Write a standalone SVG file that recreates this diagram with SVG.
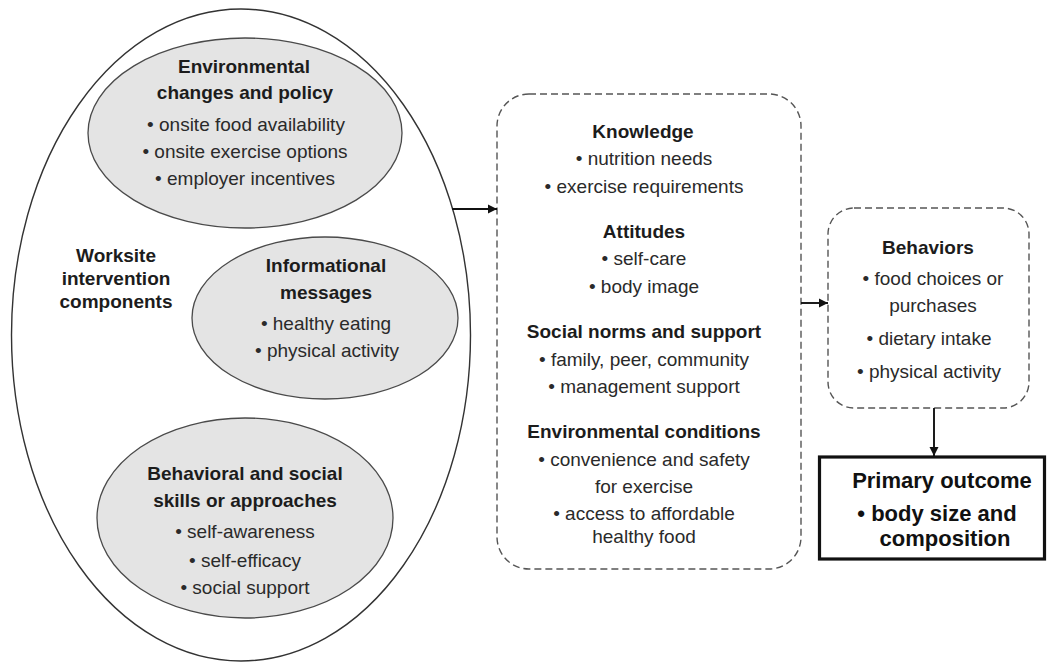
<svg xmlns="http://www.w3.org/2000/svg" width="1049" height="662" viewBox="0 0 1049 662">
<defs>
<style>
text{font-family:"Liberation Sans",Arial,sans-serif;text-anchor:middle;fill:#2a2a2a;font-size:19px}
.b{font-weight:bold;fill:#1c1c1c}
.big{font-weight:bold;font-size:22px;fill:#111}
.oval{fill:#e4e4e4;stroke:#4a4a4a;stroke-width:1.3}
.dash{fill:#fff;stroke:#555;stroke-width:1.4;stroke-dasharray:7 4}
.conn{stroke:#111;stroke-width:1.9;fill:none}
</style>
<marker id="ah" viewBox="0 0 10 10" refX="10" refY="5" markerWidth="5" markerHeight="5" orient="auto" markerUnits="strokeWidth">
<path d="M0,0 L10,5 L0,10 z" fill="#111"/>
</marker>
</defs>
<rect width="1049" height="662" fill="#fff"/>
<g id="worksite">
<ellipse cx="241" cy="335" rx="229.5" ry="326" fill="#fff" stroke="#333" stroke-width="1.4"/>
<text class="b" x="116" y="262">Worksite</text>
<text class="b" x="116" y="285">intervention</text>
<text class="b" x="116" y="308">components</text>
</g>
<g id="environmental">
<ellipse class="oval" cx="245" cy="133" rx="157" ry="95"/>
<text class="b" x="244" y="73">Environmental</text>
<text class="b" x="245" y="99">changes and policy</text>
<text x="246" y="131">• onsite food availability</text>
<text x="245" y="158">• onsite exercise options</text>
<text x="245" y="185">• employer incentives</text>
</g>
<g id="informational">
<ellipse class="oval" cx="325" cy="318" rx="133" ry="81"/>
<text class="b" x="326" y="272">Informational</text>
<text class="b" x="326" y="299">messages</text>
<text x="326" y="330">• healthy eating</text>
<text x="327" y="357">•  physical activity</text>
</g>
<g id="behavioral">
<ellipse class="oval" cx="245" cy="518" rx="148" ry="100"/>
<text class="b" x="245" y="480">Behavioral and social</text>
<text class="b" x="245" y="507">skills or approaches</text>
<text x="245" y="538">• self-awareness</text>
<text x="245" y="567">• self-efficacy</text>
<text x="245" y="594">• social support</text>
</g>
<g id="mediators">
<rect class="dash" x="497" y="94" width="304" height="475" rx="32" ry="32"/>
<text class="b" x="643" y="138">Knowledge</text>
<text x="644" y="165">• nutrition needs</text>
<text x="644" y="193">• exercise requirements</text>
<text class="b" x="644" y="238">Attitudes</text>
<text x="644" y="265">• self-care</text>
<text x="644" y="293">• body image</text>
<text class="b" x="644" y="338">Social norms and support</text>
<text x="644" y="366">• family, peer, community</text>
<text x="644" y="393">• management support</text>
<text class="b" x="644" y="438">Environmental conditions</text>
<text x="644" y="466">• convenience and safety</text>
<text x="644" y="493">for exercise</text>
<text x="644" y="520">• access to affordable</text>
<text x="644" y="543">healthy food</text>
</g>
<g id="behaviors">
<rect class="dash" x="828" y="208" width="201" height="200" rx="26" ry="26"/>
<text class="b" x="928" y="254">Behaviors</text>
<text x="933" y="285">• food choices or</text>
<text x="933" y="312">purchases</text>
<text x="929" y="345">• dietary intake</text>
<text x="929" y="378">• physical activity</text>
</g>
<g id="outcome">
<rect x="819.5" y="457" width="225" height="102" fill="#fff" stroke="#111" stroke-width="3.2"/>
<text class="big" x="942" y="488">Primary outcome</text>
<text class="big" x="937" y="521">•  body size and</text>
<text class="big" x="945" y="546">composition</text>
</g>
<g id="connectors">
<line class="conn" x1="452" y1="209" x2="497" y2="209" marker-end="url(#ah)"/>
<line class="conn" x1="801" y1="303" x2="828" y2="303" marker-end="url(#ah)"/>
<line class="conn" x1="934" y1="408" x2="934" y2="456" marker-end="url(#ah)"/>
</g>
</svg>
